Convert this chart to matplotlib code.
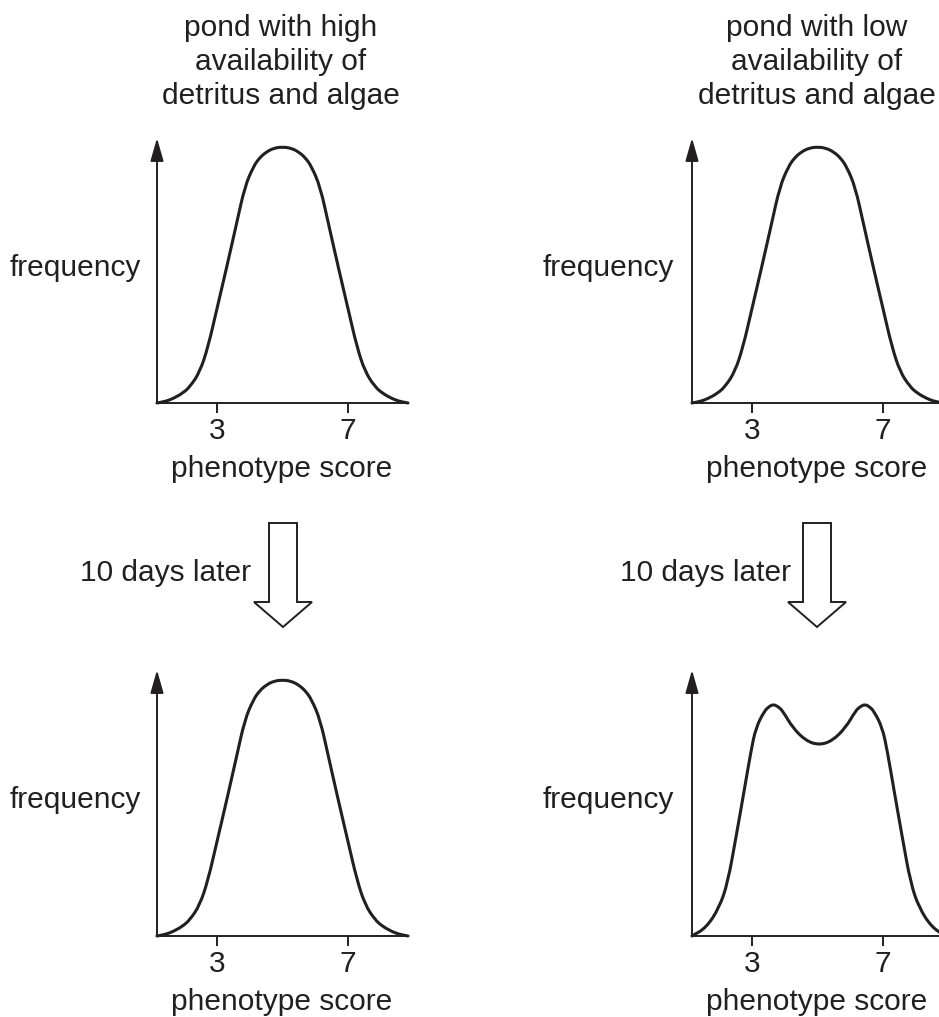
import matplotlib
matplotlib.use("Agg")
import matplotlib.pyplot as plt
from matplotlib.patches import Polygon, PathPatch
from matplotlib.path import Path

plt.rcParams['font.family'] = ['Liberation Sans', 'DejaVu Sans']

# ---------------- data ----------------
score_normal = [1.17, 1.45, 1.67, 1.95, 2.18, 2.48, 2.73, 2.99, 3.30, 3.60, 3.85, 4.11, 4.30, 4.52, 4.75, 5.00,
                5.25, 5.48, 5.70, 5.89, 6.15, 6.40, 6.70, 7.01, 7.27, 7.52, 7.82, 8.05, 8.33, 8.55, 8.83]
freq_normal = [0.00, 0.07, 0.18, 0.38, 0.64, 1.22, 2.20, 3.63, 5.32, 7.02, 8.45, 9.23, 9.58, 9.82, 9.96, 10.00,
               9.96, 9.82, 9.58, 9.23, 8.45, 7.02, 5.32, 3.63, 2.20, 1.22, 0.64, 0.38, 0.18, 0.07, 0.00]

score_bimodal = [1.17, 1.60, 2.00, 2.26, 2.51, 2.76, 2.97, 3.12, 3.38, 3.52, 3.65, 3.80, 3.94, 4.24, 4.65, 5.05,
                 5.45, 5.86, 6.16, 6.30, 6.45, 6.58, 6.72, 6.98, 7.13, 7.34, 7.59, 7.84, 8.10, 8.50, 8.93]
freq_bimodal = [0.00, 0.32, 1.10, 2.08, 3.84, 5.66, 7.23, 8.14, 8.79, 8.96, 9.05, 8.96, 8.79, 8.14, 7.62, 7.46,
                7.62, 8.14, 8.79, 8.96, 9.05, 8.96, 8.79, 8.14, 7.23, 5.66, 3.84, 2.08, 1.10, 0.32, 0.00]

tick_values = [3, 7]
tick_labels = ['3', '7']
title_left = 'pond with high\navailability of\ndetritus and algae'
title_right = 'pond with low\navailability of\ndetritus and algae'
ylabel_text = 'frequency'
xlabel_text = 'phenotype score'
arrow_text = '10 days later'

# ---------------- layout ----------------
W, H = 939, 1017
C = '#231f20'
FS = 21.5

fig = plt.figure(figsize=(W / 100, H / 100), dpi=100)


def fx(px):
    return px / W


def fy(py):
    return 1 - py / H


def smooth_curve(ax, xs, ys):
    # quadratic B-spline style path through the read points (drawn in data coords)
    pts = list(zip(xs, ys))
    verts = [pts[0]]
    codes = [Path.MOVETO]
    mid = lambda a, b: ((a[0] + b[0]) / 2, (a[1] + b[1]) / 2)
    verts.append(mid(pts[0], pts[1]))
    codes.append(Path.LINETO)
    for i in range(1, len(pts) - 1):
        verts += [pts[i], mid(pts[i], pts[i + 1])]
        codes += [Path.CURVE3, Path.CURVE3]
    verts.append(pts[-1])
    codes.append(Path.LINETO)
    patch = PathPatch(Path(verts, codes), fill=False, edgecolor=C, lw=2.2,
                      joinstyle='round', capstyle='round', clip_on=False)
    ax.add_patch(patch)


def panel(left, right, top, bottom, xs, ys):
    ax = fig.add_axes([fx(left), fy(bottom), (right - left) / W, (bottom - top) / H])
    ax.set_xlim(1.17, 8.80)
    ax.set_ylim(0, (bottom - top) / 25.6)
    for s in ['top', 'right', 'left']:
        ax.spines[s].set_visible(False)
    ax.spines['bottom'].set_linewidth(1.4)
    ax.spines['bottom'].set_color(C)
    ax.set_yticks([])
    ax.set_xticks(tick_values)
    ax.set_xticklabels(tick_labels)
    ax.tick_params(axis='x', length=7.2, width=1.4, color=C, direction='out', pad=3,
                   labelsize=FS, labelcolor=C)
    ax.annotate('', xy=(0, 1), xytext=(0, 0), xycoords='axes fraction',
                arrowprops=dict(arrowstyle='-|>,head_length=1.4,head_width=0.4', mutation_scale=10,
                                lw=1.4, color=C, shrinkA=0, shrinkB=0))
    smooth_curve(ax, xs, ys)
    ax.annotate(xlabel_text, xy=(0.5, 0), xycoords='axes fraction', xytext=(0, -66),
                textcoords='offset pixels', ha='center', va='center', fontsize=FS, color=C)
    return ax


panel(157, 407, 138, 403, score_normal, freq_normal)
panel(692, 942, 138, 403, score_normal, freq_normal)
panel(157, 407, 670, 936, score_normal, freq_normal)
panel(692, 942, 670, 936, score_bimodal, freq_bimodal)

# titles
fig.text(fx(281), fy(62), title_left, ha='center', va='center', fontsize=FS, color=C, linespacing=1.25)
fig.text(fx(817), fy(62), title_right, ha='center', va='center', fontsize=FS, color=C, linespacing=1.25)

# y labels
for lx in (10, 543):
    for ly in (268, 800):
        fig.text(fx(lx), fy(ly), ylabel_text, ha='left', va='center', fontsize=FS, color=C)

# hollow arrows
for cx, tx in ((283, 251), (817, 791)):
    verts = [(cx - 14, 523), (cx + 14, 523), (cx + 14, 602), (cx + 29, 602), (cx, 627),
             (cx - 29, 602), (cx - 14, 602)]
    poly = Polygon([(fx(a), fy(b)) for a, b in verts], closed=True, transform=fig.transFigure,
                   facecolor='white', edgecolor=C, lw=1.4, joinstyle='miter')
    fig.patches.append(poly)
    fig.text(fx(tx), fy(573), arrow_text, ha='right', va='center', fontsize=FS, color=C)

fig.savefig('out.png', dpi=100, facecolor='white')
